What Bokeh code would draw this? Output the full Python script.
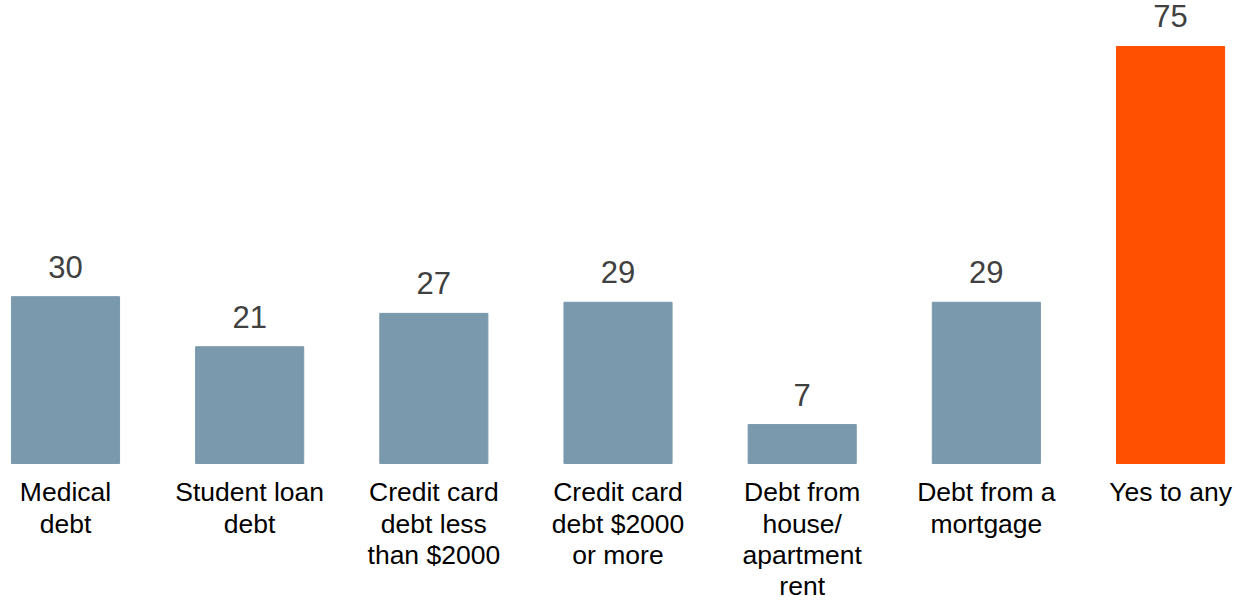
from bokeh.plotting import figure
from bokeh.models import Range1d, ColumnDataSource
from bokeh.core.properties import value
from bokeh.embed import file_html
from bokeh.resources import INLINE

categories = ["Medical\ndebt", "Student loan\ndebt", "Credit card\ndebt less\nthan $2000",
              "Credit card\ndebt $2000\nor more", "Debt from\nhouse/\napartment\nrent",
              "Debt from a\nmortgage", "Yes to any"]
values = [30, 21, 27, 29, 7, 29, 75]
colors = ["#7a99ad"] * 6 + ["#ff4f00"]

x = list(range(len(values)))
src = ColumnDataSource(dict(x=x, top=values, color=colors, label=[str(v) for v in values],
                            cat=categories, zero=[0] * len(values)))

W, H = 1238, 600
p = figure(width=W, height=H, output_backend="svg", toolbar_location=None,
           x_range=Range1d(-0.3529, 6.369), y_range=Range1d(-24.64, 83.27),
           min_border=0, outline_line_color=None)
p.xaxis.visible = False
p.yaxis.visible = False
p.grid.visible = False
p.background_fill_color = "white"

p.vbar(x="x", top="top", bottom=0, width=0.587, color="color", source=src)
p.text(x="x", y="top", text="label", source=src, text_align="center",
       text_baseline="alphabetic", y_offset=-30, text_font=value("Liberation Sans"),
       text_font_size="31px", text_color="#404040")
p.text(x="x", y="zero", text="cat", source=src, text_align="center",
       text_baseline="top", y_offset=14, text_font=value("Liberation Sans"),
       text_font_size="26.5px", text_color="#000000", text_line_height=1.04)

open("out.html", "w").write(file_html(p, INLINE))
